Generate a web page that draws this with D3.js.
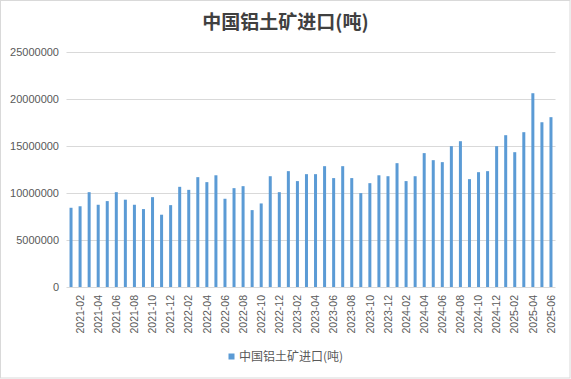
<!DOCTYPE html>
<html>
<head>
<meta charset="utf-8">
<script src="https://cdn.jsdelivr.net/npm/d3@7"></script>
<style>
  html, body { margin: 0; padding: 0; background: #fff; }
  svg { display: block; }
</style>
</head>
<body>
<svg id="chart" width="571" height="379"></svg>
<script>
const title = "中国铝土矿进口(吨)";
const seriesName = "中国铝土矿进口(吨)";
const categories = [
  "2021-01","2021-02","2021-03","2021-04","2021-05","2021-06","2021-07","2021-08","2021-09","2021-10","2021-11","2021-12",
  "2022-01","2022-02","2022-03","2022-04","2022-05","2022-06","2022-07","2022-08","2022-09","2022-10","2022-11","2022-12",
  "2023-01","2023-02","2023-03","2023-04","2023-05","2023-06","2023-07","2023-08","2023-09","2023-10","2023-11","2023-12",
  "2024-01","2024-02","2024-03","2024-04","2024-05","2024-06","2024-07","2024-08","2024-09","2024-10","2024-11","2024-12",
  "2025-01","2025-02","2025-03","2025-04","2025-05","2025-06"
];
const values = [
  8440000, 8600000, 10100000, 8760000, 9150000, 10100000, 9300000, 8760000, 8300000, 9570000, 7700000, 8720000,
  10670000, 10350000, 11700000, 11170000, 11900000, 9400000, 10530000, 10740000, 8190000, 8900000, 11800000, 10100000,
  12340000, 11280000, 12020000, 12020000, 12870000, 11600000, 12870000, 11600000, 10000000, 11060000, 11900000, 11800000,
  13190000, 11280000, 11800000, 14260000, 13510000, 13300000, 15000000, 15530000, 11490000, 12230000, 12340000, 15000000,
  16170000, 14360000, 16490000, 20640000, 17550000, 18090000
];
const yTicks = [0, 5000000, 10000000, 15000000, 20000000, 25000000];
const xTickLabels = categories.filter((c, i) => i % 2 === 1);

const svg = d3.select("#chart");
const W = 571, H = 379;
const plot = { left: 66.5, right: 555.5, top: 52.3, bottom: 287 };
const barColor = "#5b9bd5";
const textColor = "#595959";
const fontFam = "'Liberation Sans', Arial, 'Noto Sans CJK SC', sans-serif";

// border
svg.append("rect").attr("x", 0.5).attr("y", 0.5).attr("width", W - 1.5).attr("height", H - 1.5)
  .attr("fill", "#fff").attr("stroke", "#d9d9d9").attr("stroke-width", 1);

const x = d3.scaleBand().domain(categories).range([plot.left, plot.right]).padding(0);
const y = d3.scaleLinear().domain([0, 25000000]).range([plot.bottom, plot.top]);

// gridlines
svg.append("g").selectAll("line").data(yTicks).join("line")
  .attr("x1", plot.left).attr("x2", plot.right)
  .attr("y1", d => Math.round(y(d)) + 0.5).attr("y2", d => Math.round(y(d)) + 0.5)
  .attr("stroke", "#d9d9d9").attr("stroke-width", 1);

// y axis labels
const yAxis = d3.axisLeft(y).tickValues(yTicks).tickFormat(d3.format("d")).tickSize(0).tickPadding(0);
const gy = svg.append("g").attr("transform", `translate(59,0)`).call(yAxis);
gy.select(".domain").remove();
gy.selectAll("text").attr("fill", textColor).style("font-family", fontFam).style("font-size", "11px");

// bars
const bw = 3;
svg.append("g").selectAll("rect").data(values).join("rect")
  .attr("x", (d, i) => x(categories[i]) + x.bandwidth() / 2 - bw / 2)
  .attr("y", d => y(d))
  .attr("width", bw)
  .attr("height", d => y(0) - y(d))
  .attr("fill", barColor);

// x axis labels
const xAxis = d3.axisBottom(x).tickValues(xTickLabels).tickSize(0).tickPadding(0);
const gx = svg.append("g").attr("transform", `translate(0,${plot.bottom})`).call(xAxis);
gx.select(".domain").remove();
gx.selectAll("text")
  .attr("fill", textColor)
  .style("font-family", fontFam).style("font-size", "10.5px")
  .attr("text-anchor", "end")
  .attr("dy", "0.35em")
  .attr("transform", "translate(0,8) rotate(-90)")
  .attr("x", 0).attr("y", 0);

// title
svg.append("text").attr("x", 285.5).attr("y", 29).attr("text-anchor", "middle")
  .attr("fill", "#404040").style("font-family", "'Noto Sans CJK SC', sans-serif")
  .style("font-size", "19px").style("font-weight", "bold").text(title);

// legend
const lg = svg.append("g");
lg.append("rect").attr("x", 228.5).attr("y", 353.5).attr("width", 6).attr("height", 6).attr("fill", barColor);
lg.append("text").attr("x", 239).attr("y", 361).attr("fill", textColor)
  .style("font-family", "'Noto Sans CJK SC', sans-serif").style("font-size", "12px").text(seriesName);
</script>
</body>
</html>
